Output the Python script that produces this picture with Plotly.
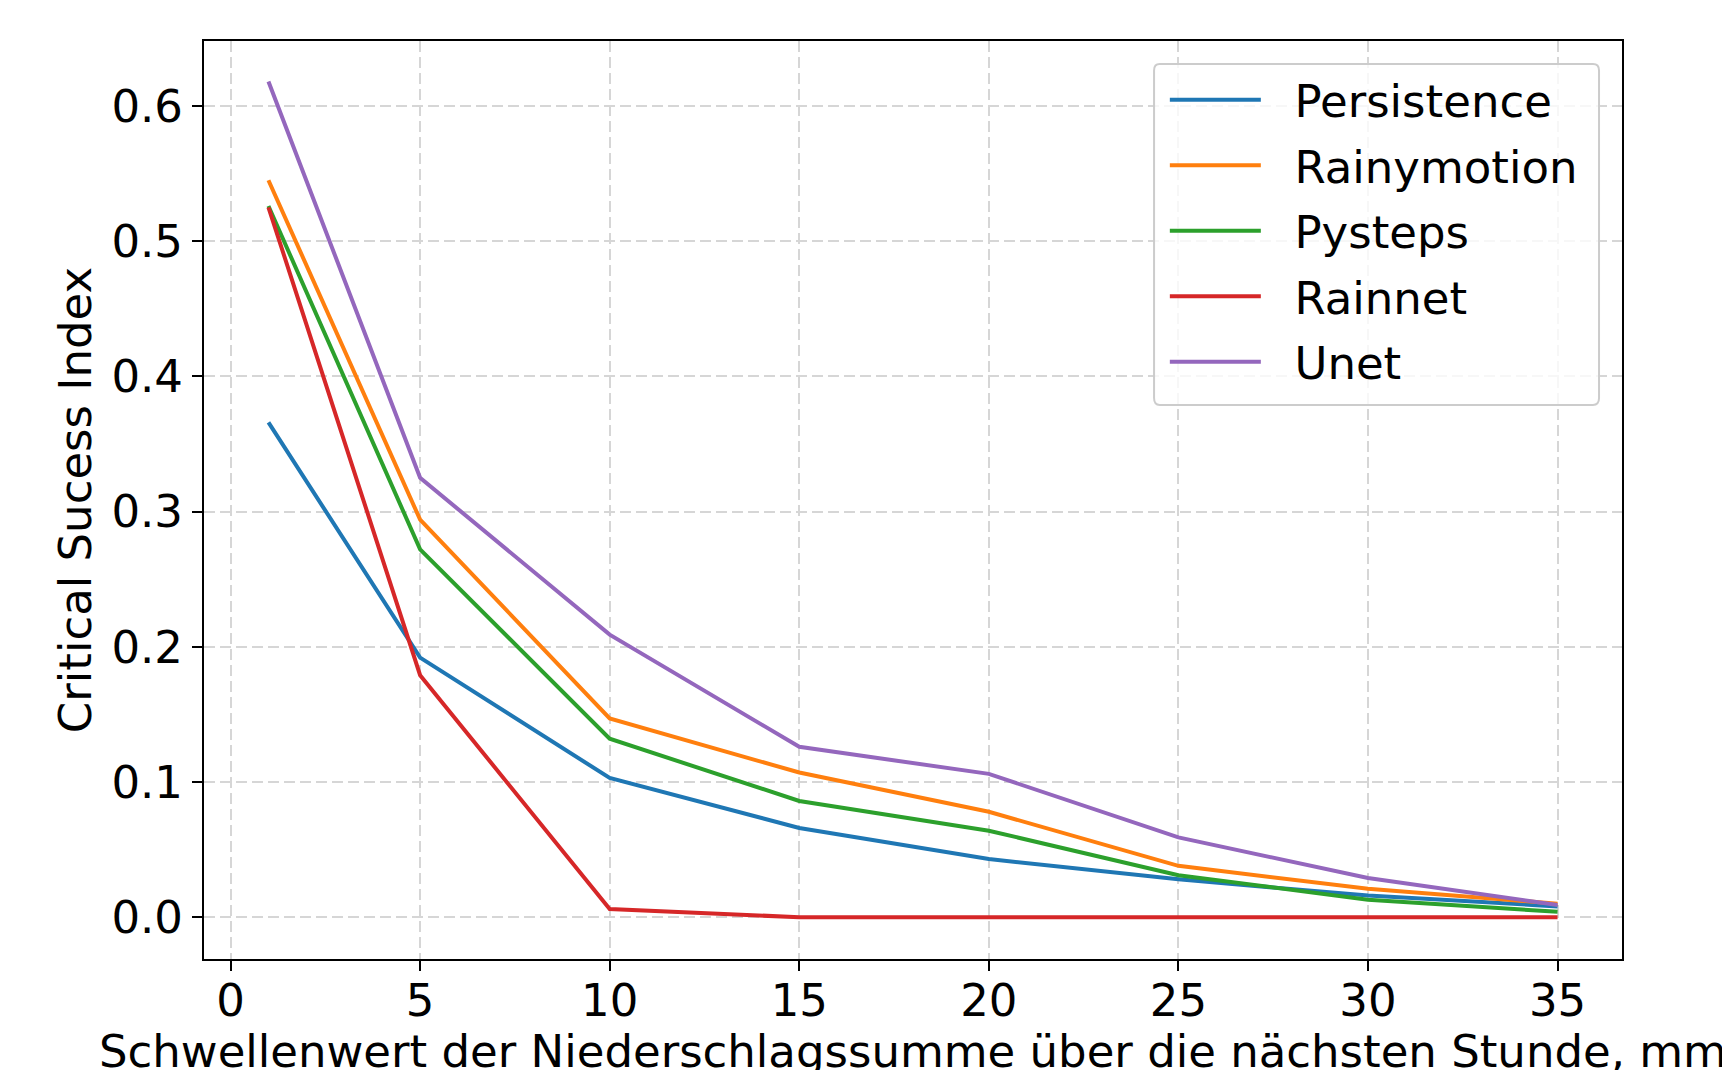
import plotly.graph_objects as go

thresholds = [1, 5, 10, 15, 20, 25, 30, 35]
persistence = [0.366, 0.192, 0.103, 0.066, 0.043, 0.028, 0.016, 0.008]
rainymotion = [0.545, 0.294, 0.147, 0.107, 0.078, 0.038, 0.021, 0.010]
pysteps = [0.526, 0.272, 0.132, 0.086, 0.064, 0.031, 0.013, 0.004]
rainnet = [0.525, 0.179, 0.006, 0.0, 0.0, 0.0, 0.0, 0.0]
unet = [0.618, 0.325, 0.209, 0.126, 0.106, 0.059, 0.029, 0.009]

series_names = ["Persistence", "Rainymotion", "Pysteps", "Rainnet", "Unet"]
series_values = [persistence, rainymotion, pysteps, rainnet, unet]
colors = ["#1f77b4", "#ff7f0e", "#2ca02c", "#d62728", "#9467bd"]

x_ticks = [0, 5, 10, 15, 20, 25, 30, 35]
y_ticks = [0.0, 0.1, 0.2, 0.3, 0.4, 0.5, 0.6]

FONT = "DejaVu Sans"
FS = 45
PAD = "\u00a0\u00a0"

fig = go.Figure()
for name, vals, c in zip(series_names, series_values, colors):
    fig.add_trace(go.Scatter(x=thresholds, y=vals, mode="lines", name=PAD + name,
                             legendgroup=name,
                             line=dict(color=c, width=4)))

axis_common = dict(
    showline=True, linecolor="black", linewidth=2, mirror=True,
    ticks="outside", ticklen=10, tickwidth=2, tickcolor="black",
    showgrid=True, gridcolor="#d6d6d6", gridwidth=2, griddash="11px,5px",
    zeroline=False, tickfont=dict(family=FONT, size=FS, color="black"),
)

fig.update_layout(
    width=1730, height=1070,
    margin=dict(l=196, r=116, t=33, b=119, autoexpand=False),
    paper_bgcolor="white", plot_bgcolor="white",
    font=dict(family=FONT, size=FS, color="black"),
    xaxis=dict(range=[-0.7, 36.7], tickvals=x_ticks, ticktext=[str(v) for v in x_ticks],
               title=dict(text="Schwellenwert der Niederschlagssumme über die nächsten Stunde, mm",
                          font=dict(family=FONT, size=FS), standoff=6),
               ticklabelstandoff=-9,
               automargin=False, **axis_common),
    yaxis=dict(range=[-0.0309, 0.648], tickvals=y_ticks, ticktext=[f"{v:.1f}" for v in y_ticks],
               title=dict(text="Critical Sucess Index", font=dict(family=FONT, size=FS), standoff=6),
               automargin=False, **axis_common),
    legend=dict(x=0.6776, y=0.975, xanchor="left", yanchor="top",
                bgcolor="rgba(0,0,0,0)", borderwidth=0,
                font=dict(family=FONT, size=FS), itemwidth=91,
                tracegroupgap=4),
    shapes=[dict(type="path", xref="paper", yref="paper", layer="above",
                 path="M 0.674,0.975 L 0.9795,0.975 Q 0.9838,0.975 0.9838,0.968 L 0.9838,0.611 Q 0.9838,0.6035 0.9795,0.6035 L 0.674,0.6035 Q 0.670,0.6035 0.670,0.611 L 0.670,0.968 Q 0.670,0.975 0.674,0.975 Z",
                 fillcolor="rgba(255,255,255,0.8)", line=dict(color="#cccccc", width=2))],
)

fig.write_html("out.html")
